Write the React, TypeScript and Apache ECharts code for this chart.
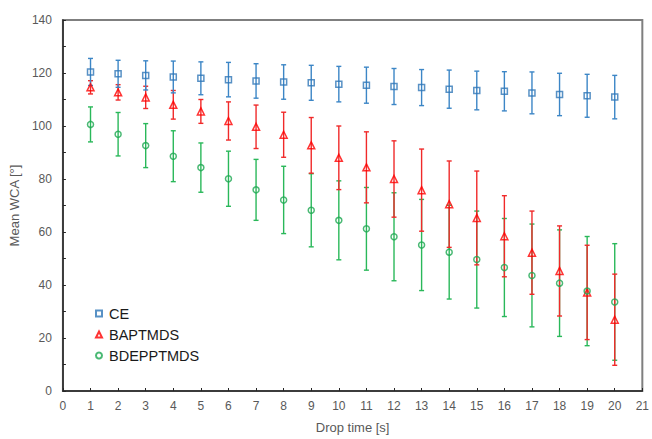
import React, { useEffect, useRef } from "react";
import * as echarts from "echarts";

const dropTimes = [1, 2, 3, 4, 5, 6, 7, 8, 9, 10, 11, 12, 13, 14, 15, 16, 17, 18, 19, 20];

const ceMean = [120.4, 119.7, 119.1, 118.5, 118.0, 117.5, 117.0, 116.6, 116.3, 115.8, 115.4, 114.9, 114.5, 113.9, 113.4, 113.1, 112.5, 111.9, 111.4, 110.9];
const ceErr = [5.1, 5.1, 5.5, 6.0, 6.2, 6.5, 6.5, 6.5, 6.6, 6.7, 6.8, 6.8, 6.8, 7.2, 7.3, 7.4, 7.9, 8.0, 8.1, 8.2];

const baMean = [114.6, 112.7, 110.8, 108.0, 105.5, 101.9, 99.7, 96.7, 92.7, 88.0, 84.4, 80.0, 75.8, 70.5, 65.3, 58.4, 52.2, 45.3, 37.2, 26.9];
const baErr = [2.5, 2.9, 4.2, 5.4, 4.5, 7.2, 8.2, 8.5, 10.5, 12.0, 13.4, 14.4, 15.5, 16.3, 17.7, 15.3, 15.7, 17.0, 17.8, 17.2];

const bdMean = [100.6, 96.9, 92.6, 88.6, 84.3, 80.1, 75.9, 72.1, 68.2, 64.4, 61.2, 58.2, 55.1, 52.4, 49.6, 46.6, 43.6, 40.7, 37.7, 33.6];
const bdErr = [6.6, 8.2, 8.3, 9.6, 9.3, 10.4, 11.5, 12.7, 13.8, 14.9, 15.6, 16.6, 17.2, 17.7, 18.3, 18.5, 19.4, 20.1, 20.6, 22.0];

const seriesNames = ["CE", "BAPTMDS", "BDEPPTMDS"];
const xTitle = "Drop time [s]";
const yTitle = "Mean WCA [°]";

const FONT = "Arial, 'Liberation Sans', sans-serif";

export default function App() {
  const ref = useRef<HTMLDivElement>(null);

  useEffect(() => {
    if (!ref.current) return;
    const chart = echarts.init(ref.current, undefined, { renderer: "svg" });

    const groups = [
      { name: seriesNames[0], mean: ceMean, err: ceErr, color: "#2E75B6", barColor: "#3C86C6", symbol: "rect", size: 6 },
      { name: seriesNames[1], mean: baMean, err: baErr, color: "#FF0000", barColor: "#F02A2A", symbol: "triangle", size: 7 },
      { name: seriesNames[2], mean: bdMean, err: bdErr, color: "#1DA851", barColor: "#2AB85A", symbol: "circle", size: 6 },
    ];

    const errSeries = groups
      .slice()
      .reverse()
      .map((g) => ({
        type: "custom",
        name: g.name + " err",
        silent: true,
        z: 2,
        data: dropTimes.map((x, i) => [x, g.mean[i] - g.err[i], g.mean[i] + g.err[i]]),
        renderItem: (params: any, api: any) => {
          const x = api.value(0);
          const lo = api.coord([x, api.value(1)]);
          const hi = api.coord([x, api.value(2)]);
          const hw = 2.5;
          const style = { stroke: g.barColor, lineWidth: 1.4 };
          return {
            type: "group",
            children: [
              { type: "line", shape: { x1: lo[0], y1: lo[1], x2: hi[0], y2: hi[1] }, style },
              { type: "line", shape: { x1: hi[0] - hw, y1: hi[1], x2: hi[0] + hw, y2: hi[1] }, style },
              { type: "line", shape: { x1: lo[0] - hw, y1: lo[1], x2: lo[0] + hw, y2: lo[1] }, style },
            ],
          };
        },
      }));

    const markerSeries = groups.map((g) => ({
      type: "scatter",
      name: g.name,
      z: 5,
      symbol: g.symbol,
      symbolSize: g.size,
      itemStyle: { color: "rgba(255,255,255,0)", borderColor: g.color, borderWidth: 1.5 },
      data: dropTimes.map((x, i) => [x, g.mean[i]]),
    }));

    chart.setOption({
      animation: false,
      backgroundColor: "#ffffff",
      textStyle: { fontFamily: FONT },
      grid: {
        left: 60,
        right: 7,
        top: 20,
        bottom: 43,
        show: true,
        borderColor: "#7F7F7F",
        borderWidth: 2,
        backgroundColor: "transparent",
      },
      legend: {
        orient: "vertical",
        left: 90,
        top: 301,
        itemWidth: 6,
        itemHeight: 6,
        itemGap: 6,
        data: seriesNames.map((n) => ({ name: n })),
        textStyle: { fontSize: 14.5, color: "#1a1a1a", fontFamily: FONT, lineHeight: 14, padding: [0, 0, 0, 2] },
      },
      xAxis: {
        type: "value",
        min: 0,
        max: 21,
        interval: 1,
        name: xTitle,
        nameLocation: "middle",
        nameGap: 30,
        nameTextStyle: { fontSize: 13, color: "#595959", fontFamily: FONT },
        axisLine: { show: true, lineStyle: { color: "#262626", width: 1.5 } },
        axisTick: { show: true, inside: true, length: 3, lineStyle: { color: "#262626" } },
        axisLabel: { fontSize: 12, color: "#595959", margin: 9, fontFamily: FONT },
        splitLine: { show: false },
      },
      yAxis: {
        type: "value",
        min: 0,
        max: 140,
        interval: 20,
        name: yTitle,
        nameLocation: "middle",
        nameGap: 36,
        nameRotate: 90,
        nameTextStyle: { fontSize: 13, color: "#595959", fontFamily: FONT },
        axisLine: { show: true, lineStyle: { color: "#262626", width: 1.5 } },
        axisTick: { show: true, inside: true, length: 3, lineStyle: { color: "#262626" } },
        minorTick: { show: true, splitNumber: 2, length: 3, lineStyle: { color: "#262626" } },
        axisLabel: { fontSize: 12, color: "#595959", margin: 11, fontFamily: FONT },
        splitLine: { show: false },
      },
      series: [...errSeries, ...markerSeries],
    });

    return () => chart.dispose();
  }, []);

  return (
    <div
      ref={ref}
      style={{ position: "fixed", left: 0, top: 0, width: 652, height: 439, background: "#fff" }}
    />
  );
}
